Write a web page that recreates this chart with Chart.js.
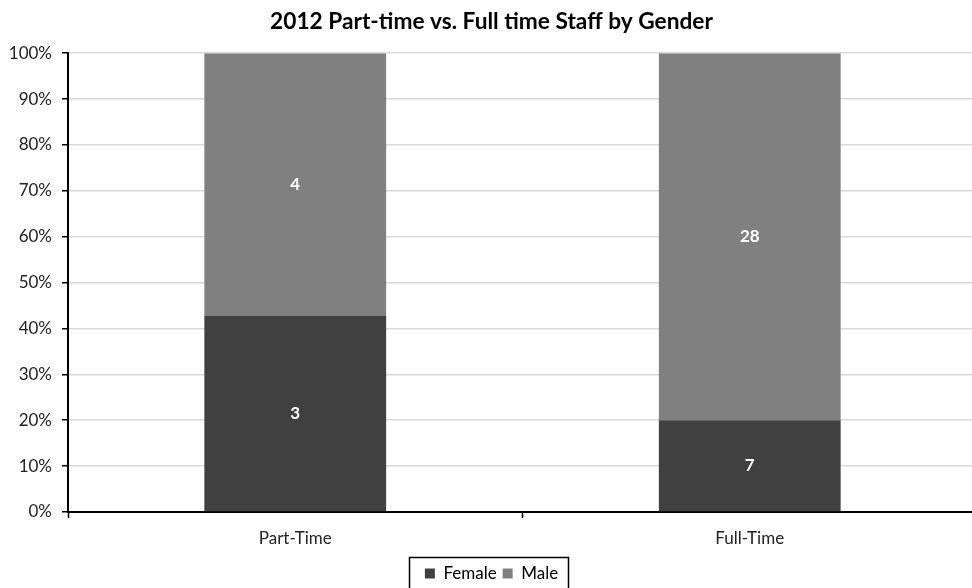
<!DOCTYPE html>
<html>
<head>
<meta charset="utf-8">
<script src="https://cdn.jsdelivr.net/npm/chart.js@4/dist/chart.umd.min.js"></script>
<style>
  html, body { margin: 0; padding: 0; background: #fff; overflow: hidden; }
  #view { width: 972px; height: 588px; overflow: hidden; }
  #wrap { width: 990px; height: 592px; }
</style>
</head>
<body>
<div id="view"><div id="wrap"><canvas id="staffChart"></canvas></div></div>
<script>
// Headcounts per category
const categories = ["Part-Time", "Full-Time"];
const femaleCounts = [3, 7];
const maleCounts = [4, 28];
const yTickLabels = ["0%", "10%", "20%", "30%", "40%", "50%", "60%", "70%", "80%", "90%", "100%"];

const totals = categories.map((_, i) => femaleCounts[i] + maleCounts[i]);
const toShare = (counts) => counts.map((v, i) => v / totals[i] * 100);

const FONT = "Lato, 'Open Sans', sans-serif";

// white count labels centred in each segment
const countLabels = {
    id: "countLabels",
    afterDatasetsDraw(chart) {
        const ctx = chart.ctx;
        ctx.save();
        ctx.fillStyle = "#fff";
        ctx.font = "bold 17px " + FONT;
        ctx.textAlign = "center";
        ctx.textBaseline = "middle";
        chart.data.datasets.forEach((ds, di) => {
            chart.getDatasetMeta(di).data.forEach((bar, i) => {
                const mid = (bar.y + bar.base) / 2;
                ctx.fillText(String(ds.counts[i]), bar.x, mid);
            });
        });
        ctx.restore();
    }
};

// frame around the legend
const legendFrame = {
    id: "legendFrame",
    afterDraw(chart) {
        const boxes = chart.legend.legendHitBoxes;
        if (!boxes || !boxes.length) return;
        const ctx = chart.ctx;
        const left = Math.min(...boxes.map(b => b.left)) - 16;
        const right = Math.max(...boxes.map(b => b.left + b.width)) + 10;
        const top = chart.legend.top - 2;
        ctx.save();
        ctx.strokeStyle = "#000";
        ctx.lineWidth = 1.5;
        ctx.strokeRect(Math.round(left) + 0.5, Math.round(top) + 0.5, Math.round(right - left), 40);
        ctx.restore();
    }
};

new Chart(document.getElementById("staffChart"), {
    type: "bar",
    data: {
        labels: categories,
        datasets: [
            {
                label: "Female",
                data: toShare(femaleCounts),
                counts: femaleCounts,
                backgroundColor: "#404040",
                barPercentage: 0.8,
                categoryPercentage: 0.5
            },
            {
                label: "Male",
                data: toShare(maleCounts),
                counts: maleCounts,
                backgroundColor: "#808080",
                barPercentage: 0.8,
                categoryPercentage: 0.5
            }
        ]
    },
    options: {
        responsive: true,
        maintainAspectRatio: false,
        animation: false,
        layout: { padding: { left: 6, right: 13, top: 0, bottom: 0 } },
        plugins: {
            title: {
                display: true,
                text: "2012 Part-time vs. Full time Staff by Gender",
                color: "#000",
                font: { family: FONT, size: 22.7, weight: "bold", lineHeight: 1.2 },
                padding: { top: 8, bottom: 18 }
            },
            legend: {
                position: "bottom",
                labels: {
                    color: "#000",
                    font: { family: FONT, size: 17 },
                    boxWidth: 10,
                    boxHeight: 10,
                    padding: 6
                }
            },
            tooltip: { enabled: false }
        },
        scales: {
            x: {
                stacked: true,
                grid: {
                    drawOnChartArea: false,
                    drawTicks: true,
                    tickLength: 6,
                    tickColor: "#000",
                    tickWidth: 1.5
                },
                border: { color: "#000", width: 2 },
                ticks: { color: "#222", font: { family: FONT, size: 17 }, padding: 10 },
                afterFit(scale) { scale.height = 47; }
            },
            y: {
                stacked: true,
                min: 0,
                max: 100,
                grid: {
                    color: "#d9d9d9",
                    lineWidth: 1.5,
                    tickLength: 6,
                    tickColor: "#000",
                    tickWidth: 1.5
                },
                border: { color: "#000", width: 2 },
                ticks: {
                    stepSize: 10,
                    color: "#222",
                    font: { family: FONT, size: 17 },
                    padding: 10,
                    callback: (v) => yTickLabels[Math.round(v / 10)]
                },
                afterFit(scale) { scale.width = 62; }
            }
        }
    },
    plugins: [countLabels, legendFrame]
});
</script>
</body>
</html>
